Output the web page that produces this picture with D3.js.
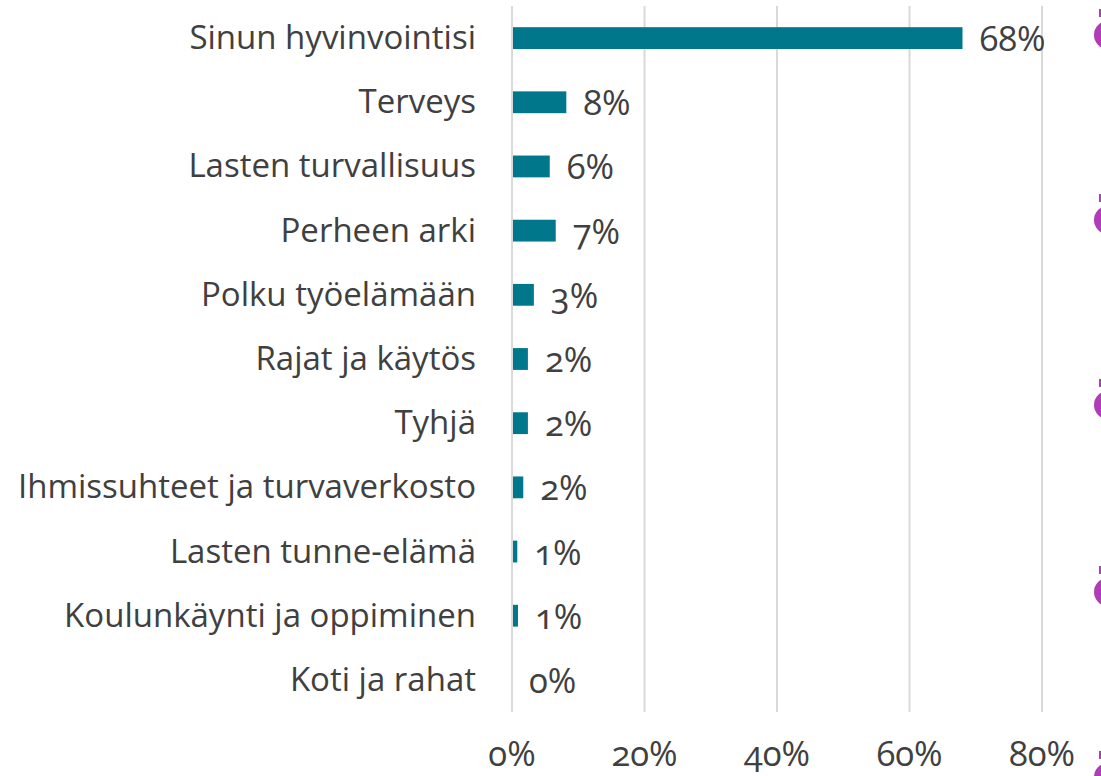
<!DOCTYPE html>
<html>
<head>
<meta charset="utf-8">
<script src="https://cdn.jsdelivr.net/npm/d3@7"></script>
<style>
  body { margin: 0; background: #fff; overflow: hidden; }
  .cat { font-family: "Open Sans", sans-serif; font-size: 33px; fill: #404040; }
  .num { font-family: "Open Sans", sans-serif; font-size: 34.5px; fill: #404040; font-feature-settings: "onum" 1; font-variant-numeric: oldstyle-nums; }
</style>
</head>
<body>
<div id="chart"></div>
<script>
//chart data
var categories = ["Sinun hyvinvointisi", "Terveys", "Lasten turvallisuus", "Perheen arki",
  "Polku työelämään", "Rajat ja käytös", "Tyhjä", "Ihmissuhteet ja turvaverkosto",
  "Lasten tunne-elämä", "Koulunkäynti ja oppiminen", "Koti ja rahat"];
var values = [68.0, 8.2, 5.7, 6.6, 3.3, 2.4, 2.4, 1.7, 0.8, 0.9, 0];
var labels = ["68%", "8%", "6%", "7%", "3%", "2%", "2%", "2%", "1%", "1%", "0%"];
var ticks = [0, 20, 40, 60, 80];

var width = 1101, height = 776;
var margin = {left: 512, top: 6, right: 59, bottom: 64};

var svg = d3.select("div#chart").append("svg")
    .attr("width", width)
    .attr("height", height);

var x = d3.scaleLinear().domain([0, 80]).range([margin.left, margin.left + 530]);
var y = d3.scaleBand().domain(categories).range([margin.top, height - margin.bottom]).paddingInner(0.66).paddingOuter(0.33);

//gridlines
svg.append("g").selectAll("line")
  .data(ticks)
  .join("line")
    .attr("x1", d => x(d)).attr("x2", d => x(d))
    .attr("y1", margin.top).attr("y2", height - margin.bottom)
    .attr("stroke", "#d9d9d9").attr("stroke-width", 2);

//x-axis labels
svg.append("g").selectAll("text")
  .data(ticks)
  .join("text")
    .attr("class", "num")
    .attr("x", d => x(d))
    .attr("y", 766)
    .attr("text-anchor", "middle")
    .text(d => d + "%");

//bars
svg.append("g").selectAll("rect")
  .data(values)
  .join("rect")
    .attr("x", x(0) + 1)
    .attr("y", (d, i) => y(categories[i]))
    .attr("width", d => Math.max(0, x(d) - x(0) - 1))
    .attr("height", y.bandwidth())
    .attr("fill", "#00778B");

//value labels
svg.append("g").selectAll("text")
  .data(values)
  .join("text")
    .attr("class", "num")
    .attr("x", d => x(d) + 17)
    .attr("y", (d, i) => y(categories[i]) + y.bandwidth() / 2 + 13)
    .text((d, i) => labels[i]);

//category labels
svg.append("g").selectAll("text")
  .data(categories)
  .join("text")
    .attr("class", "cat")
    .attr("x", margin.left - 36)
    .attr("y", d => y(d) + y.bandwidth() / 2 + 11)
    .attr("text-anchor", "end")
    .text(d => d);

//decorative dots on the right edge
var dots = [35, 220, 405, 592, 777];
var deco = svg.append("g").attr("fill", "#B03CB8");
deco.selectAll("circle")
  .data(dots)
  .join("circle")
    .attr("cx", 1108).attr("cy", d => d).attr("r", 14);
deco.selectAll("rect")
  .data(dots)
  .join("rect")
    .attr("x", 1099).attr("y", d => d - 26).attr("width", 2).attr("height", 8);
</script>
</body>
</html>
